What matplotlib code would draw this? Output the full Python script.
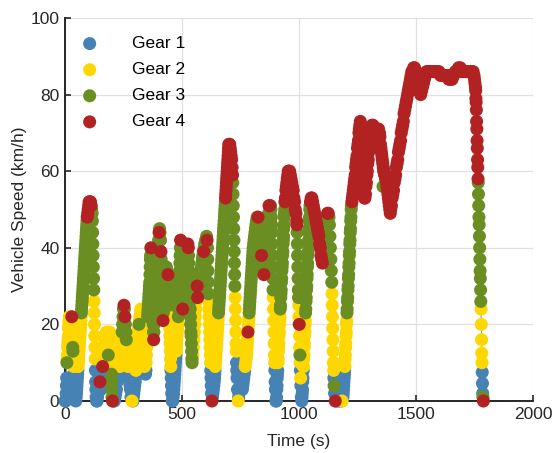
import numpy as np
import matplotlib
matplotlib.use("Agg")
import matplotlib.pyplot as plt

plt.rcParams["font.family"] = ["Liberation Sans", "DejaVu Sans"]

# speed trace: (time s, speed km/h, gear)
trip01 = [(0,0,1),(3,0,1),(5,2,1),(6,4,1),(7,6,1),(8,10,3),(9,11,2),(10,12,2),(11,14,2),(12,15,2),(13,16,2),(14,17,2),
          (15,19,2),(16,20,2),(17,21,2),(18,22,2),(20,21,2),(22,20,2),(24,19,2),(26,20,2),(28,21,2),(29,22,4),(30,20,2),
          (31,18,2),(32,16,2),(33,14,3),(34,13,3),(35,12,2),(36,10,2),(37,9,2),(38,7,1),(39,6,1),(40,5,1),(41,4,1),
          (42,3,1),(43,2,1),(44,1,1),(46,0,1),(48,1,1),(49,2,1),(50,3,1),(51,4,1),(52,5,1),(53,6,1),(54,7,1),(55,8,1),
          (56,9,2),(57,10,2),(58,11,2),(59,12,2),(60,13,2),(61,14,2),(62,15,2),(63,16,2),(64,17,2),(65,18,2),(66,19,2),
          (67,20,2),(68,21,2),(69,22,2),(70,23,3),(71,24,3),(72,25,3),(73,26,3),(74,27,3),(75,28,3),(76,29,3),(77,30,3),
          (78,31,3),(79,32,3),(80,33,3),(81,34,3),(82,35,3),(83,36,3),(84,37,3),(85,38,3),(86,39,3),(87,40,3),(88,41,3),
          (89,42,3),(90,43,3),(91,44,3),(92,45,3),(93,46,3),(94,47,3),(95,48,4),(97,49,4),(99,50,4),(101,51,4),(103,52,4),
          (106,52,4),(109,52,4),(112,51,4),(114,50,3),(116,49,3),(117,47,3),(118,44,3),(119,41,3),(120,38,3),(121,35,3),
          (122,32,3),(123,29,3),(124,26,2),(125,23,2),(126,20,2),(127,17,2),(128,14,2),(129,11,2),(130,8,1),(131,5,1),
          (132,3,1),(133,1,1),(135,0,1)]
trip02 = [(137,0,1),(139,1,1),(141,2,1),(143,3,1),(145,4,1),(147,6,1),(149,5,4),(151,4,1),(153,3,1),(155,4,1),(157,6,1),
          (159,7,1),(161,9,4),(163,10,2),(165,11,2),(167,12,2),(169,14,2),(171,15,2),(173,16,2),(175,17,2),(177,18,2),
          (179,17,2),(181,15,2),(183,13,2),(185,12,3),(187,14,2),(189,16,2),(191,18,2),(193,16,2),(195,13,2),(197,10,2),
          (198,7,3),(199,5,3),(200,3,3),(201,1,3),(203,0,4)]
trip03 = [(207,0,1),(211,0,1),(214,1,1),(217,2,1),(220,3,1),(223,5,1),(226,7,1),(229,6,1),(232,7,1),(234,8,1),(235,9,2),
          (237,11,2),(239,13,2),(241,15,2),(243,17,2),(244,18,3),(246,20,3),(248,22,3),(250,24,3),(252,25,4),(254,24,3),
          (256,22,4),(258,20,3),(260,18,3),(262,16,3),(264,14,2),(266,12,2),(268,11,2),(270,9,2),(272,8,1),(274,7,1),
          (276,5,1),(278,4,1),(280,3,1),(282,1,1),(286,0,2)]
trip04 = [(290,0,1),(292,1,1),(294,2,1),(296,3,1),(298,4,1),(300,5,1),(301,6,1),(302,7,1),(303,8,2),(304,9,2),(305,10,2),
          (306,11,2),(307,12,2),(308,13,2),(309,14,2),(310,15,2),(311,16,2),(312,17,2),(313,18,2),(314,19,2),(316,20,3),
          (318,21,2),(320,22,2),(322,23,2),(324,24,2),(326,23,2),(328,21,2),(330,19,2),(332,17,2),(334,15,2),(336,13,2),
          (338,11,2),(340,9,2),(342,8,1),(344,7,1),(346,8,1),(347,10,2),(348,12,2),(349,14,2),(350,16,2),(351,18,2),
          (352,20,2),(353,22,3),(354,23,3),(355,24,3),(356,25,3),(357,26,3),(358,27,3),(359,28,3),(360,29,3),(361,30,3),
          (362,31,3),(363,33,3),(364,35,3),(365,37,3),(366,38,3),(367,40,4),(368,38,3),(369,36,3),(370,34,3),(371,32,3),
          (372,30,3),(373,28,3),(374,26,3),(375,24,3),(376,22,3),(377,20,3),(378,18,3),(379,16,4),(380,18,3),(381,20,3),
          (382,22,3),(383,24,3),(384,26,3),(386,28,3),(388,30,3),(390,32,3),(392,34,3),(394,36,3),(396,38,3),(398,40,3),
          (400,42,3),(402,44,4),(404,45,3),(406,44,3),(408,42,3),(410,39,4),(411,37,3),(412,35,3),(413,33,3),(414,31,3),
          (415,29,3),(416,27,3),(417,25,3),(418,23,3),(419,21,4),(420,23,3),(421,25,3),(422,27,3),(423,29,3),(425,31,3),
          (427,32,3),(430,34,3),(433,35,3),(436,34,3),(440,33,4),(441,31,3),(442,29,3),(443,27,3),(444,25,3),(445,23,2),
          (446,21,2),(447,19,2),(448,17,2),(449,15,2),(450,13,2),(451,11,2),(452,9,2),(453,8,1),(454,6,1),(455,4,1),
          (456,2,1),(458,0,1)]
trip05 = [(460,0,1),(462,1,1),(464,2,1),(465,3,1),(466,4,1),(467,5,1),(468,6,1),(469,7,1),(470,8,1),(471,9,1),(472,10,1),
          (473,11,1),(474,12,1),(475,13,2),(476,14,2),(477,15,2),(478,16,2),(479,17,2),(480,18,2),(481,19,2),(482,20,2),
          (483,21,2),(484,22,3),(485,24,3),(486,26,3),(487,28,3),(488,30,3),(489,32,3),(490,34,3),(491,36,3),(492,38,3),
          (493,40,3),(494,42,4),(495,40,3),(496,38,3),(497,36,3),(498,34,3),(499,32,3),(500,30,3),(501,28,3),(502,26,3),
          (503,24,4),(504,25,3),(505,26,3),(506,27,3),(507,28,3),(508,29,3),(509,30,3),(510,31,3),(511,32,3),(512,33,3),
          (513,34,3),(514,35,3),(515,36,3),(516,37,3),(517,38,3),(519,39,3),(521,40,3),(523,40,3),(525,41,4),(527,40,4),
          (528,38,3),(529,36,3),(530,34,3),(531,32,3),(532,30,3),(533,28,3),(534,26,3),(535,24,3),(536,22,3),(537,20,3),
          (538,18,3),(539,17,3),(540,15,3),(541,13,3),(542,11,3),(543,10,3),(545,11,2),(547,12,2),(549,14,2),(551,16,2),
          (553,18,2),(555,20,2),(557,22,2),(559,24,2),(561,26,2),(563,28,3),(565,30,4),(567,27,4),(569,28,3),(571,29,3),
          (573,30,3),(575,31,3),(577,32,3),(579,33,3),(581,34,3),(583,35,3),(585,36,3),(587,37,3),(589,38,3),(591,39,3),
          (593,39,4),(595,40,3),(597,41,3),(599,41,3),(601,42,3),(603,42,3),(605,43,3),(607,42,4),(609,40,3),(610,37,3),
          (611,34,3),(612,31,3),(613,28,3),(614,26,2),(615,24,2),(616,22,2),(617,20,2),(618,18,2),(619,16,2),(620,14,2),
          (621,12,2),(622,10,2),(623,8,1),(624,6,1),(625,4,1),(626,2,1),(628,0,4)]
trip06 = [(630,1,1),(632,2,1),(634,3,1),(636,4,1),(638,5,1),(639,6,1),(640,7,1),(641,8,1),(642,9,2),(643,10,2),(644,11,2),
          (645,12,2),(646,13,2),(647,14,2),(648,15,2),(649,16,2),(650,17,2),(651,18,2),(652,19,2),(653,20,2),(654,21,2),
          (655,22,2),(656,23,3),(657,24,3),(658,25,3),(659,26,3),(660,27,3),(661,28,3),(662,29,3),(663,30,3),(664,31,3),
          (665,32,3),(666,33,3),(667,34,3),(668,35,3),(669,36,3),(670,37,3),(671,38,3),(672,39,3),(673,40,3),(674,41,3),
          (675,42,3),(676,43,3),(677,44,3),(678,45,3),(679,46,3),(680,47,3),(681,48,3),(682,49,3),(683,50,3),(684,51,3),
          (685,52,3),(686,53,4),(687,54,4),(688,55,4),(689,56,4),(690,57,4),(691,58,4),(692,59,4),(693,60,4),(694,61,4),
          (695,62,4),(696,63,4),(697,64,4),(698,65,4),(699,66,4),(700,67,4),(702,67,4),(704,67,4),(706,66,4),(708,65,4),
          (710,64,4),(712,63,4),(714,61,4),(716,59,4),(717,57,3),(718,54,3),(719,51,3),(720,48,3),(721,45,3),(722,42,3),
          (723,39,3),(724,36,3),(725,33,3),(726,30,3),(727,27,2),(728,24,2),(729,21,2),(730,18,2),(731,15,2),(732,13,2),
          (733,10,1),(734,8,1),(735,6,1),(737,3,1),(740,0,2)]
trip07 = [(742,1,1),(744,2,1),(746,3,1),(748,4,1),(750,5,1),(752,6,1),(754,5,1),(756,4,1),(758,3,1),(760,4,1),(762,5,1),
          (764,6,1),(766,7,1),(768,8,1),(770,9,2),(772,10,2),(774,11,2),(776,12,2),(777,13,2),(778,14,2),(779,15,2),
          (780,16,2),(781,17,2),(782,18,4),(783,19,2),(784,20,2),(785,21,2),(786,22,2),(787,23,3),(788,24,3),(789,25,3),
          (790,26,3),(791,27,3),(792,28,3),(793,29,3),(794,30,3),(795,31,3),(796,32,3),(797,33,3),(798,34,3),(799,35,3),
          (800,36,3),(801,37,3),(802,38,3),(803,39,3),(804,40,3),(806,41,3),(808,42,3),(810,43,3),(812,44,3),(814,45,3),
          (816,46,3),(818,47,3),(821,48,3),(825,48,4),(828,47,3),(830,46,3),(832,45,3),(834,44,3),(836,42,3),(838,40,3),
          (840,38,4),(842,37,3),(844,36,3),(846,35,3),(848,34,3),(850,33,4),(852,34,3),(854,36,3),(856,38,3),(858,40,3),
          (860,42,3),(862,44,3),(864,45,3),(866,46,3),(868,48,3),(870,49,3),(872,51,4),(875,51,4),(878,51,3),(880,50,3),
          (882,48,3),(883,46,3),(884,44,3),(885,41,3),(886,38,3),(887,35,3),(888,32,3),(889,29,3),(890,27,2),(891,24,2),
          (892,21,2),(893,18,2),(894,15,2),(895,12,2),(896,10,2),(897,8,1),(898,5,1),(899,3,1),(901,0,1)]
trip08 = [(903,0,1),(904,1,1),(905,3,1),(906,4,1),(907,6,1),(908,7,1),(909,8,1),(910,10,2),(911,11,2),(912,13,2),
          (913,14,2),(914,15,2),(915,17,2),(916,18,2),(917,20,2),(918,21,2),(919,22,2),(920,24,3),(921,25,3),(922,27,3),
          (923,28,3),(924,29,3),(925,31,3),(926,32,3),(927,34,3),(928,35,3),(929,36,3),(930,38,3),(931,39,3),(932,41,3),
          (933,42,3),(934,43,3),(935,45,3),(936,46,3),(937,48,3),(938,49,3),(939,50,3),(940,52,4),(942,53,4),(944,55,4),
          (946,56,4),(948,57,4),(950,58,4),(952,59,4),(954,60,4),(957,60,4),(960,60,4),(963,59,4),(966,58,4),(969,57,4),
          (972,56,4),(975,55,4),(978,53,4),(981,52,4),(984,50,4),(987,49,4),(990,47,4),(991,46,4),(992,44,3),(993,41,3),
          (994,38,3),(995,35,3),(996,32,3),(997,29,3),(998,27,3),(999,25,2),(1000,22,2),(1001,20,4),(1002,17,2),
          (1003,14,2),(1004,12,3),(1005,10,2),(1006,8,1),(1007,6,2),(1008,4,1),(1010,1,1),(1012,0,1)]
trip09 = [(1013,1,1),(1014,2,1),(1015,3,1),(1016,5,1),(1017,6,1),(1018,8,1),(1019,9,2),(1020,11,2),(1021,12,2),
          (1022,14,2),(1023,15,2),(1024,17,2),(1025,18,2),(1026,20,2),(1027,21,2),(1028,23,3),(1029,24,3),(1030,26,3),
          (1031,27,3),(1032,29,3),(1033,30,3),(1034,32,3),(1035,33,3),(1036,35,3),(1037,36,3),(1038,38,3),(1039,39,3),
          (1040,41,3),(1041,42,3),(1042,44,3),(1043,45,3),(1044,47,3),(1045,48,3),(1046,50,3),(1047,51,3),(1049,52,4),
          (1052,53,4),(1055,53,4),(1058,52,4),(1061,51,4),(1064,50,4),(1067,49,4),(1070,48,4),(1073,47,4),(1076,46,4),
          (1079,45,4),(1082,44,4),(1085,43,4),(1088,41,4),(1091,40,4),(1094,38,4),(1097,37,4),(1100,36,4),(1102,37,3),
          (1104,38,3),(1106,40,3),(1108,41,3),(1110,43,3),(1112,44,3),(1114,45,3),(1116,46,3),(1118,47,3),(1120,48,3),
          (1122,49,4),(1125,49,4),(1128,48,3),(1130,46,3),(1132,43,3),(1134,40,3),(1136,37,3),(1138,34,3),(1140,31,3),
          (1141,28,2),(1142,25,2),(1143,22,2),(1144,19,2),(1145,16,2),(1146,13,2),(1147,10,2),(1148,8,2),(1149,6,1),
          (1150,4,3),(1152,2,1),(1155,0,4)]
trip10 = [(1160,0,1),(1165,1,1),(1170,0,1),(1175,2,1),(1180,0,1),(1184,0,2),(1188,1,1),(1189,2,1),(1190,3,1),(1191,4,1),
          (1192,5,1),(1193,6,1),(1194,7,1),(1195,8,1),(1196,9,2),(1197,11,2),(1198,12,2),(1199,14,2),(1200,15,2),
          (1201,17,2),(1202,18,2),(1203,20,2),(1204,21,2),(1205,23,3),(1206,24,3),(1207,26,3),(1208,27,3),(1209,29,3),
          (1210,30,3),(1211,32,3),(1212,33,3),(1213,35,3),(1214,36,3),(1215,38,3),(1216,39,3),(1217,41,3),(1218,42,3),
          (1219,44,3),(1220,45,3),(1221,47,3),(1222,48,3),(1223,50,3),(1224,51,3),(1226,52,4),(1228,53,4),(1230,54,4),
          (1232,55,4),(1234,56,4),(1236,57,4),(1238,58,4),(1240,59,4),(1242,61,4),(1244,62,4),(1246,63,4),(1248,64,4),
          (1250,66,4),(1252,67,4),(1254,68,4),(1256,70,4),(1258,71,4),(1260,72,4),(1262,73,4),(1264,71,4),(1266,69,4),
          (1267,67,4),(1268,65,4),(1269,63,3),(1270,61,4),(1272,59,4),(1274,57,4),(1276,55,4),(1278,54,4),(1280,53,4),
          (1282,53,4),(1284,54,4),(1286,56,4),(1288,57,4),(1290,59,4),(1292,60,4),(1294,62,4),(1296,63,4),(1298,65,4),
          (1300,66,4),(1302,68,4),(1304,69,4),(1306,70,4),(1309,71,4),(1312,72,4),(1316,72,4),(1320,71,4),(1324,71,4),
          (1328,71,4),(1332,70,4),(1336,71,4),(1340,71,4),(1344,70,4),(1346,69,4),(1348,67,4),(1350,66,4),(1352,65,4),
          (1354,64,4),(1356,63,4),(1358,62,4),(1359,56,3),(1360,61,4),(1362,60,4),(1364,60,4),(1366,59,4),(1368,59,4),
          (1370,58,4),(1372,58,4),(1374,57,4),(1376,56,4),(1378,55,4),(1380,54,4),(1382,53,4),(1384,52,4),(1386,51,4),
          (1388,50,4),(1390,49,4)]
trip11 = [(1392,50,4),(1395,51,4),(1398,53,4),(1401,54,4),(1404,55,4),(1407,57,4),(1410,58,4),(1413,59,4),(1416,61,4),
          (1419,62,4),(1422,63,4),(1425,65,4),(1428,66,4),(1431,67,4),(1434,68,4),(1437,70,4),(1440,71,4),(1443,72,4),
          (1446,73,4),(1449,75,4),(1452,76,4),(1455,77,4),(1458,78,4),(1461,79,4),(1464,80,4),(1467,81,4),(1470,82,4),
          (1473,83,4),(1476,84,4),(1479,85,4),(1482,86,4),(1486,86,4),(1490,87,4),(1494,87,4),(1497,86,4),(1500,85,4),
          (1503,84,4),(1506,83,4),(1509,82,4),(1512,81,4),(1516,81,4),(1520,80,4),(1524,81,4),(1528,82,4),(1532,83,4),
          (1536,84,4),(1540,85,4),(1545,86,4),(1550,86,4),(1556,86,4),(1563,86,4),(1570,86,4),(1577,86,4),(1584,86,4),
          (1591,86,4),(1598,86,4),(1605,85,4),(1612,85,4),(1619,85,4),(1626,85,4),(1633,85,4),(1640,84,4),(1647,84,4),
          (1654,84,4),(1661,85,4),(1668,86,4),(1675,86,4),(1682,87,4),(1689,87,4),(1696,86,4),(1703,86,4),(1710,86,4),
          (1717,86,4),(1724,86,4),(1731,86,4),(1738,86,4),(1744,86,4),(1748,85,4),(1750,84,4),(1752,83,4),(1754,82,4),
          (1755,81,4),(1756,79,4),(1757,78,4),(1758,76,4),(1759,73,4),(1760,71,4),(1761,68,4),(1762,66,4),(1763,63,4),
          (1764,61,4),(1765,58,4),(1766,57,3),(1767,54,3),(1768,51,3),(1769,48,3),(1770,46,3),(1771,43,3),(1772,40,3),
          (1773,37,3),(1774,34,3),(1775,32,3),(1776,29,3),(1777,26,3),(1778,24,2),(1779,20,2),(1780,16,2),(1781,12.5,2),
          (1782,10,2),(1783,7.5,1),(1784,4.6,1),(1785,2,1),(1786,1,3),(1788,0,4)]

trips = [trip01, trip02, trip03, trip04, trip05, trip06, trip07, trip08, trip09, trip10, trip11]
gear_labels = ["Gear 1", "Gear 2", "Gear 3", "Gear 4"]
gear_colors = ["#4682B4", "#FFD700", "#6B8E23", "#B22222"]

rows = [p for trip in trips for p in trip]
t = np.array([r[0] for r in rows], dtype=float)
v = np.array([r[1] for r in rows], dtype=float)
g = np.array([r[2] for r in rows])

fig = plt.figure(figsize=(5.55, 4.53), dpi=100)
ax = fig.add_axes([65 / 555, 52 / 453, 468 / 555, 383 / 453])

ax.plot(t, v, color="#0072BD", lw=0.5, zorder=2)
for k, (lab, col) in enumerate(zip(gear_labels, gear_colors), start=1):
    m = g == k
    ax.scatter(t[m], v[m], s=88, color=col, edgecolors="none", label=lab,
               zorder=3 + k, clip_on=False)

ax.set_xlim(0, 2000)
ax.set_ylim(0, 100)
ax.set_xticks([0, 500, 1000, 1500, 2000])
ax.set_yticks([0, 20, 40, 60, 80, 100])
ax.grid(True, color="#E1E1E1", lw=0.9)
ax.set_axisbelow(True)
for s in ["top", "right"]:
    ax.spines[s].set_visible(False)
for s in ["left", "bottom"]:
    ax.spines[s].set_linewidth(1.4)
    ax.spines[s].set_color("#262626")
ax.tick_params(direction="in", length=4, width=1.2, colors="#262626",
               labelsize=12.5, pad=4)
ax.set_xlabel("Time (s)", fontsize=12.5, color="#262626", labelpad=9)
ax.set_ylabel("Vehicle Speed (km/h)", fontsize=12.5, color="#262626", labelpad=2.5)

ax.legend(loc="upper left", bbox_to_anchor=(0.0156, 0.953), frameon=False,
          borderpad=0, borderaxespad=0, handlelength=2, handletextpad=1.43,
          labelspacing=0.63, fontsize=12.5, scatterpoints=1)

fig.savefig("out.png", dpi=100)
